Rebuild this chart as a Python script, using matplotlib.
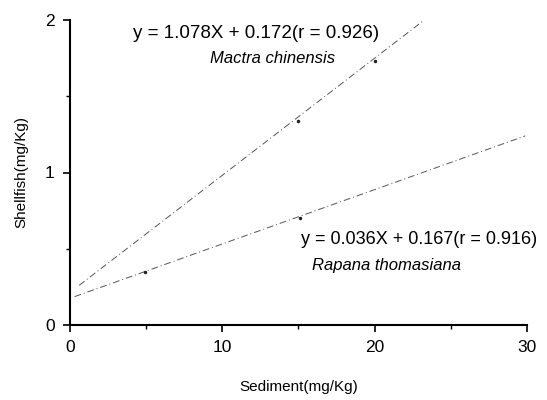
import matplotlib
matplotlib.use("Agg")
import matplotlib.pyplot as plt
from matplotlib.ticker import MultipleLocator

plt.rcParams['font.family'] = ['Liberation Sans', 'DejaVu Sans']

# regression lines (start / end points)
mactra_x = [0.6, 23.4]
mactra_y = [0.26, 2.01]
rapana_x = [0.3, 29.9]
rapana_y = [0.186, 1.24]

# small dots sitting on the lines
mactra_pts_x = [15.0, 20.0]
mactra_pts_y = [1.34, 1.73]
rapana_pts_x = [4.9, 15.1]
rapana_pts_y = [0.35, 0.70]

mactra_eq = "y = 1.078X + 0.172(r = 0.926)"
mactra_name = "Mactra chinensis"
rapana_eq = "y = 0.036X + 0.167(r = 0.916)"
rapana_name = "Rapana thomasiana"

x_ticks = [0, 10, 20, 30]
y_ticks = [0, 1, 2]

fig = plt.figure(figsize=(5.47, 4.0), dpi=100)
ax = fig.add_axes([0.128, 0.1875, 0.835, 0.7625])

ls = (0, (7, 3, 1, 3))
ax.plot(mactra_x, mactra_y, color='#555555', lw=0.7, linestyle=ls)
ax.plot(rapana_x, rapana_y, color='#555555', lw=0.7, linestyle=ls)
ax.plot(mactra_pts_x, mactra_pts_y, 'o', color='#222222', ms=1.5)
ax.plot(rapana_pts_x, rapana_pts_y, 'o', color='#222222', ms=1.5)

ax.set_xlim(0, 30)
ax.set_ylim(0, 2)
ax.set_xticks(x_ticks)
ax.set_yticks(y_ticks)
ax.xaxis.set_minor_locator(MultipleLocator(5))
ax.yaxis.set_minor_locator(MultipleLocator(0.5))
ax.tick_params(which='major', direction='out', length=5, width=1.2, labelsize=12.5, pad=6)
ax.tick_params(which='minor', direction='out', length=3, width=1.0)

for s in ['top', 'right']:
    ax.spines[s].set_visible(False)
for s in ['left', 'bottom']:
    ax.spines[s].set_linewidth(1.5)

ax.set_xlabel("Sediment(mg/Kg)", fontsize=11, labelpad=18)
ax.set_ylabel("Shellfish(mg/Kg)", fontsize=11, labelpad=12)

ax.text(4.15, 1.91, mactra_eq, fontsize=13.5, va='center', ha='left')
ax.text(9.2, 1.745, mactra_name, fontsize=12, style='italic', va='center', ha='left')
ax.text(15.2, 0.56, rapana_eq, fontsize=13, va='center', ha='left')
ax.text(15.9, 0.39, rapana_name, fontsize=12, style='italic', va='center', ha='left')

fig.savefig("out.png", dpi=100)
